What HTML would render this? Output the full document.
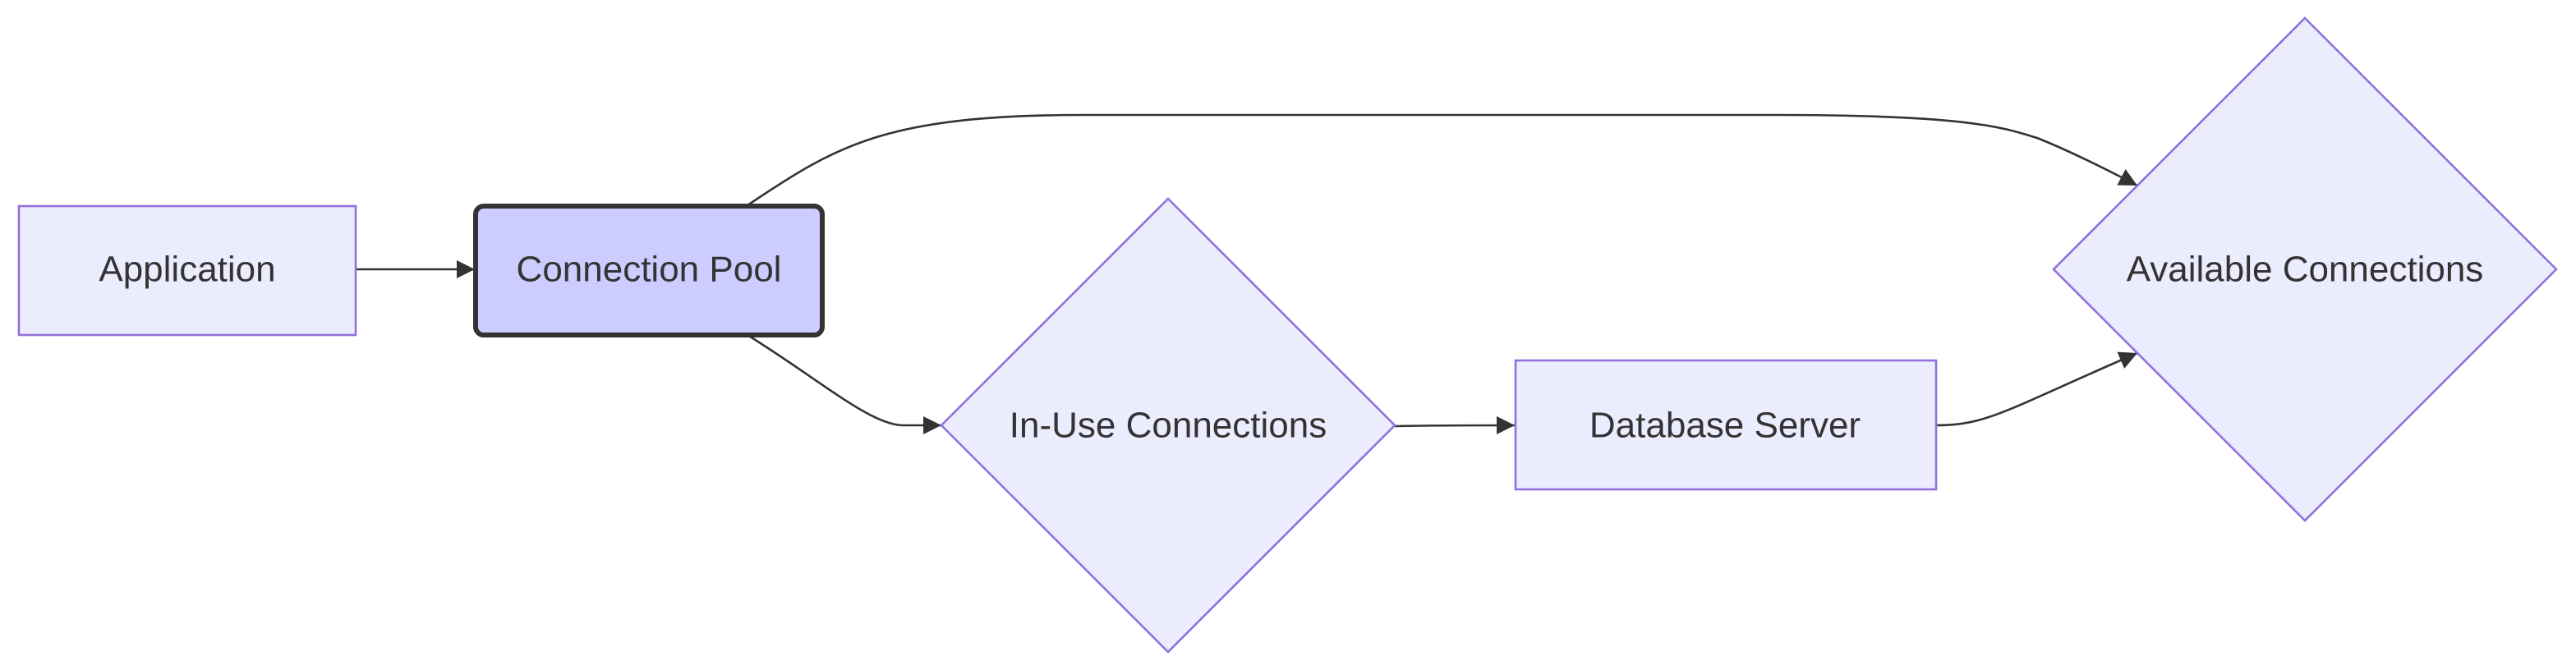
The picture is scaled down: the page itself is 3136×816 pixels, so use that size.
<!DOCTYPE html>
<html><head><meta charset="utf-8"><style>
html,body{margin:0;padding:0;background:#fff;}
svg{display:block;}
text{font-family:"Liberation Sans","DejaVu Sans",sans-serif;font-size:22px;fill:#333;text-anchor:middle;dominant-baseline:central;}
</style></head><body>
<svg width="3136" height="816" viewBox="0 0 1568 408" xmlns="http://www.w3.org/2000/svg">
<defs>
<marker id="a" viewBox="0 0 10 10" refX="10" refY="5" markerWidth="12" markerHeight="11" orient="auto" markerUnits="userSpaceOnUse">
<path d="M0,0 L10,5 L0,10 z" fill="#333"/>
</marker>
</defs>
<g fill="none" stroke="#333" stroke-width="1.3">
<path d="M216,164 L289,164" marker-end="url(#a)"/>
<path d="M455,125 C510,88 540,70 660,70 L1080,70 C1200,70 1220,78 1240,84 C1260,92 1280,102 1301,113" marker-end="url(#a)"/>
<path d="M455,204 C500,232 530,259 550,259 L573,259" marker-end="url(#a)"/>
<path d="M849,259.5 C870,259 890,259 922,259" marker-end="url(#a)"/>
<path d="M1178,259 C1210,259 1220,250 1301,215" marker-end="url(#a)"/>
</g>
<rect x="11.5" y="125.5" width="205" height="78.5" fill="#ececff" stroke="#9370db" stroke-width="1.3"/>
<text x="114" y="164">Application</text>
<rect x="289.5" y="125.5" width="211" height="78.5" rx="5" fill="#ccccff" stroke="#333" stroke-width="3"/>
<text x="395" y="164">Connection Pool</text>
<polygon points="711,121 849,259 711,397 573,259" fill="#ececff" stroke="#9370db" stroke-width="1.3"/>
<text x="711" y="259">In-Use Connections</text>
<rect x="922.5" y="219.5" width="256" height="78.5" fill="#ececff" stroke="#9370db" stroke-width="1.3"/>
<text x="1050" y="259">Database Server</text>
<polygon points="1403,11 1556,164 1403,317 1250,164" fill="#ececff" stroke="#9370db" stroke-width="1.3"/>
<text x="1403" y="164">Available Connections</text>
</svg>
</body></html>
